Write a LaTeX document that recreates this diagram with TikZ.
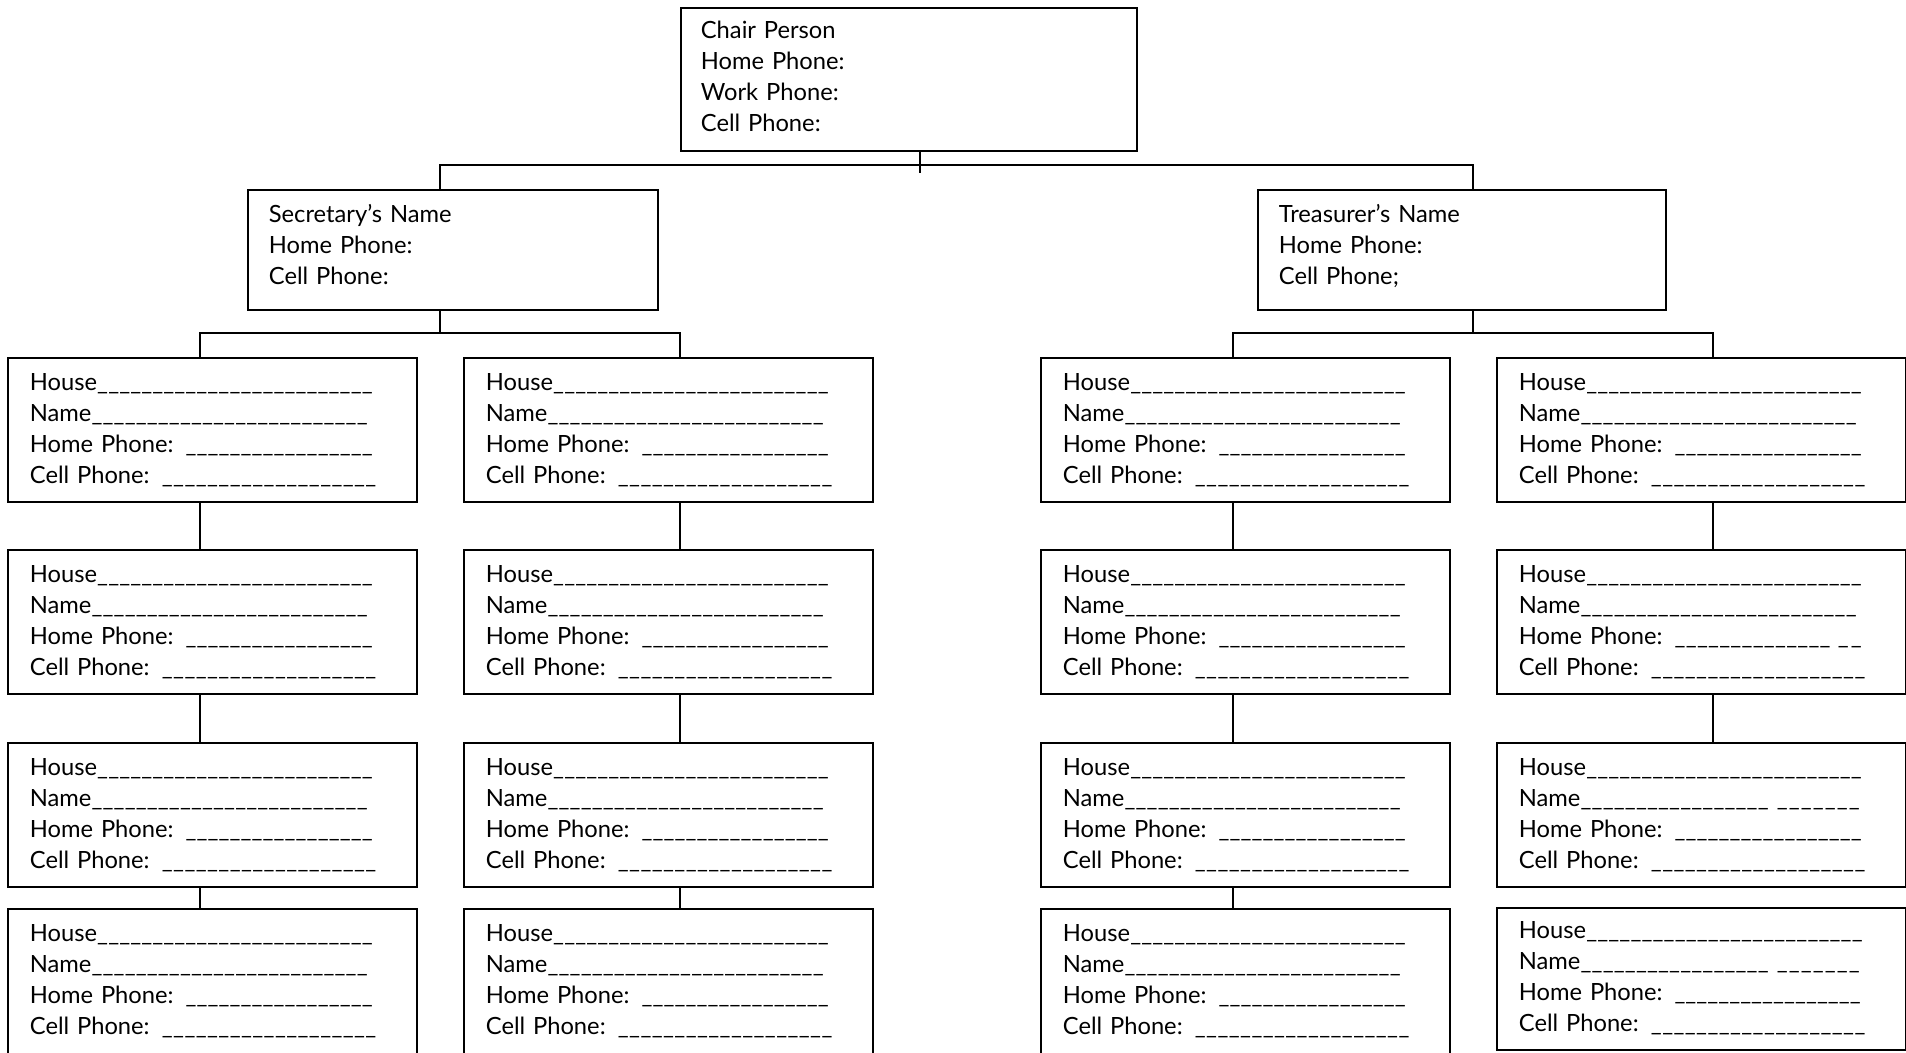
\documentclass[tikz,border=0pt]{standalone}
\usepackage{fontspec}
\setmainfont{Lato}
\usepackage{tikz}

\newcommand\blank[2]{\makebox[#2][l]{#1\xleaders\hbox{\_}\hfill}}
\newcommand\housetext{\blank{House}{6.86cm}\\ \blank{Name}{6.76cm}\\ \blank{Home Phone: }{6.86cm}\\ \blank{Cell Phone: }{6.94cm}}

\tikzset{
  card/.style={draw, line width=1pt, anchor=north west, inner ysep=0pt, align=left,
    font=\fontsize{13.5pt}{17.6pt}\selectfont},
  house/.style={card, inner xsep=0.44cm, text width=7.3cm, text height=0.66cm, text depth=2.22cm},
  link/.style={line width=0.8pt}
}

\begin{document}
\begin{tikzpicture}[x=0.02cm, y=-0.02cm]
\useasboundingbox (0,0) rectangle (1906,1053);

\node[card, inner xsep=0.4cm, text width=8.32cm, text height=0.62cm, text depth=2.24cm] (chair) at (680,7)
  {Chair Person\\ Home Phone:\\ Work Phone:\\ Cell Phone:};
\node[card, inner xsep=0.42cm, text width=7.36cm, text height=0.66cm, text depth=1.74cm] (secretary) at (247,189)
  {Secretary's Name\\ Home Phone:\\ Cell Phone:};
\node[card, inner xsep=0.42cm, text width=7.32cm, text height=0.66cm, text depth=1.74cm] (treasurer) at (1257,189)
  {Treasurer's Name\\ Home Phone:\\ Cell Phone;};

\node[house] (a1) at (7,357) {\housetext};
\node[house] (a2) at (7,549) {\housetext};
\node[house] (a3) at (7,742) {\housetext};
\node[house, text depth=2.4cm] (a4) at (7,908) {\housetext};

\node[house] (b1) at (463,357) {\housetext};
\node[house] (b2) at (463,549) {\housetext};
\node[house] (b3) at (463,742) {\housetext};
\node[house, text depth=2.4cm] (b4) at (463,908) {\housetext};

\node[house] (c1) at (1040,357) {\housetext};
\node[house] (c2) at (1040,549) {\housetext};
\node[house] (c3) at (1040,742) {\housetext};
\node[house, text depth=2.4cm] (c4) at (1040,908) {\housetext};

\node[house] (d1) at (1496,357) {\housetext};
\node[house] (d2) at (1496,549) {\blank{House}{6.86cm}\\ \blank{Name}{6.76cm}\\
  \blank{Home Phone: }{6.24cm}\hspace{0.1cm}\blank{}{0.56cm}\\ \blank{Cell Phone: }{6.94cm}};
\node[house] (d3) at (1496,742) {\blank{House}{6.86cm}\\ \blank{Name}{5.0cm}\hspace{0.14cm}\blank{}{1.7cm}\\
  \blank{Home Phone: }{6.86cm}\\ \blank{Cell Phone: }{6.94cm}};
\node[house, text height=0.62cm, text depth=2.22cm] (d4) at (1496,907) {\blank{House}{6.88cm}\\
  \blank{Name}{5.0cm}\hspace{0.14cm}\blank{}{1.7cm}\\ \blank{Home Phone: }{6.84cm}\\ \blank{Cell Phone: }{6.94cm}};

\draw[link] (chair.south -| 920,0) -- (920,173);
\draw[link] (secretary.north -| 440,0) |- (1473,165) -- (treasurer.north -| 1473,0);
\draw[link] (secretary.south -| 440,0) -- (440,333);
\draw[link] (treasurer.south -| 1473,0) -- (1473,333);
\draw[link] (a1.north -| 200,0) |- (680,333) -- (b1.north -| 680,0);
\draw[link] (c1.north -| 1233,0) |- (1713,333) -- (d1.north -| 1713,0);

\draw[link] (a1.south -| 200,0) -- (a2.north -| 200,0);
\draw[link] (a2.south -| 200,0) -- (a3.north -| 200,0);
\draw[link] (a3.south -| 200,0) -- (a4.north -| 200,0);
\draw[link] (b1.south -| 680,0) -- (b2.north -| 680,0);
\draw[link] (b2.south -| 680,0) -- (b3.north -| 680,0);
\draw[link] (b3.south -| 680,0) -- (b4.north -| 680,0);
\draw[link] (c1.south -| 1233,0) -- (c2.north -| 1233,0);
\draw[link] (c2.south -| 1233,0) -- (c3.north -| 1233,0);
\draw[link] (c3.south -| 1233,0) -- (c4.north -| 1233,0);
\draw[link] (d1.south -| 1713,0) -- (d2.north -| 1713,0);
\draw[link] (d2.south -| 1713,0) -- (d3.north -| 1713,0);
\end{tikzpicture}
\end{document}
